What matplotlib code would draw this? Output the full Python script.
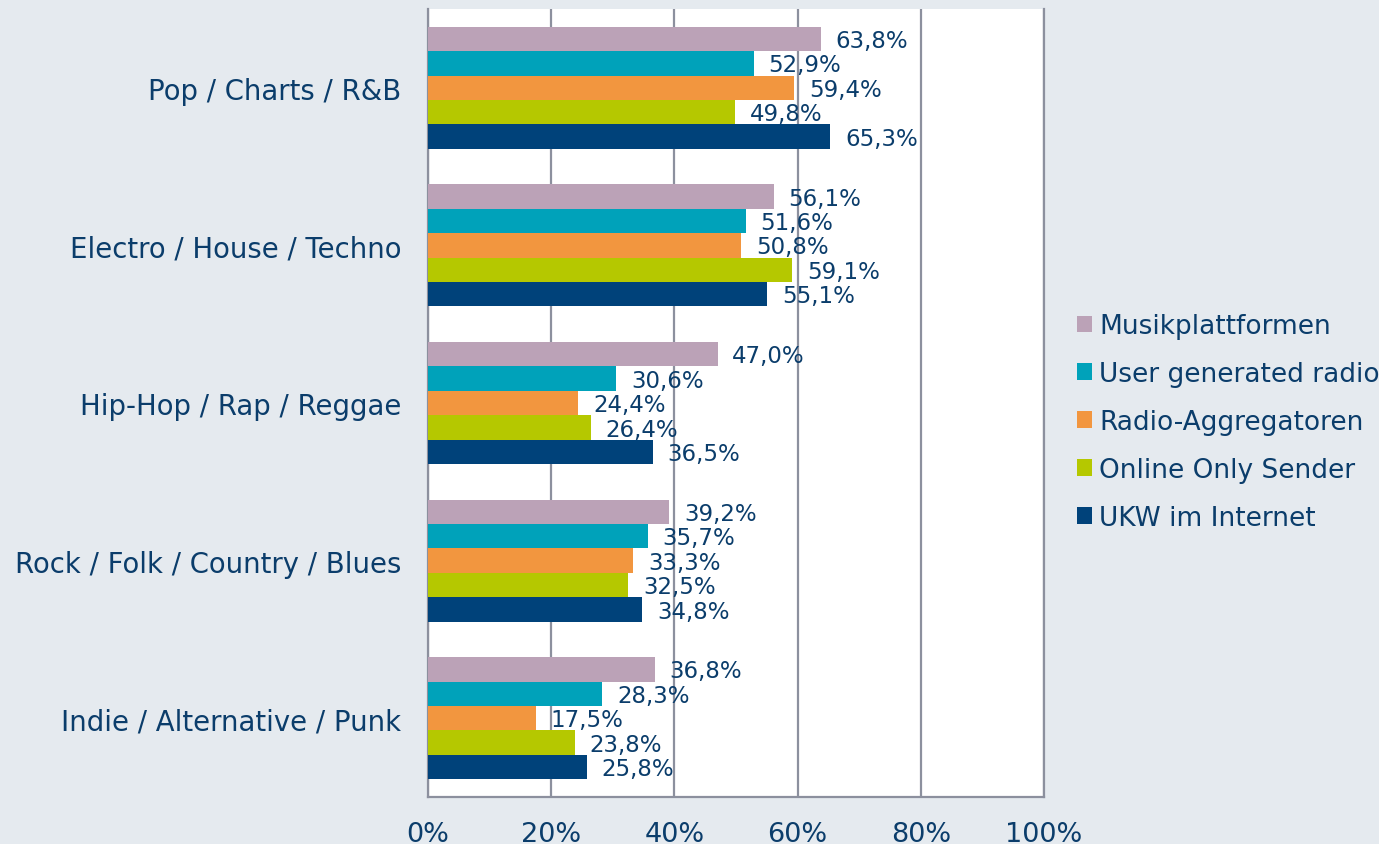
import matplotlib
matplotlib.use("Agg")
import matplotlib.pyplot as plt
import numpy as np

categories = ["Pop / Charts / R&B", "Electro / House / Techno", "Hip-Hop / Rap / Reggae",
              "Rock / Folk / Country / Blues", "Indie / Alternative / Punk"]
series_names = ["Musikplattformen", "User generated radio", "Radio-Aggregatoren",
                "Online Only Sender", "UKW im Internet"]
musik = [63.8, 56.1, 47.0, 39.2, 36.8]
user_gen = [52.9, 51.6, 30.6, 35.7, 28.3]
radio_agg = [59.4, 50.8, 24.4, 33.3, 17.5]
online_only = [49.8, 59.1, 26.4, 32.5, 23.8]
ukw = [65.3, 55.1, 36.5, 34.8, 25.8]
series = [musik, user_gen, radio_agg, online_only, ukw]
colors = ["#BBA2B7", "#00A2BA", "#F2963F", "#B5C800", "#00427A"]
xticks = [0, 20, 40, 60, 80, 100]
xticklabels = ["0%", "20%", "40%", "60%", "80%", "100%"]

txt = "#0B3D6B"
bg = "#E5EAEF"
grid = "#8C909E"

fig = plt.figure(figsize=(13.79, 8.45), dpi=100, facecolor=bg)
ax = fig.add_axes([428/1379, 1-798/845, (1044-428)/1379, (798-10)/845])
ax.set_facecolor("white")

n = len(series)
bh = 0.155
y = np.arange(len(categories))
for i, (vals, c, name) in enumerate(zip(series, colors, series_names)):
    pos = y - (n-1)/2*bh + i*bh
    ax.barh(pos, vals, height=bh, color=c, label=name, zorder=3)
    for p, v in zip(pos, vals):
        ax.text(v + 2.4, p + 0.01, f"{v:.1f}%".replace(".", ","), va="center", ha="left",
                fontsize=16.5, color=txt, zorder=4)

ax.set_xlim(0, 100)
ax.set_ylim(len(categories)-0.5, -0.5)
ax.set_xticks(xticks)
ax.set_xticklabels(xticklabels, fontsize=19.5, color=txt)
ax.set_yticks(y)
ax.set_yticklabels(categories, fontsize=19.8, color=txt)
ax.tick_params(axis="x", length=0, pad=17)
ax.tick_params(axis="y", length=0, pad=19)
ax.grid(axis="x", color=grid, linewidth=1.6, zorder=1)
ax.spines["top"].set_visible(False)
for s in ["left", "bottom", "right"]:
    ax.spines[s].set_color(grid)
    ax.spines[s].set_linewidth(1.6)

leg = fig.legend(loc="center left", bbox_to_anchor=(1066/1379, 1-423/845), frameon=False,
                 fontsize=19, labelcolor=txt, handlelength=0.6, handleheight=0.6,
                 handletextpad=0.25, labelspacing=0.83, borderaxespad=0)

fig.savefig("out.png", dpi=100, facecolor=bg)
